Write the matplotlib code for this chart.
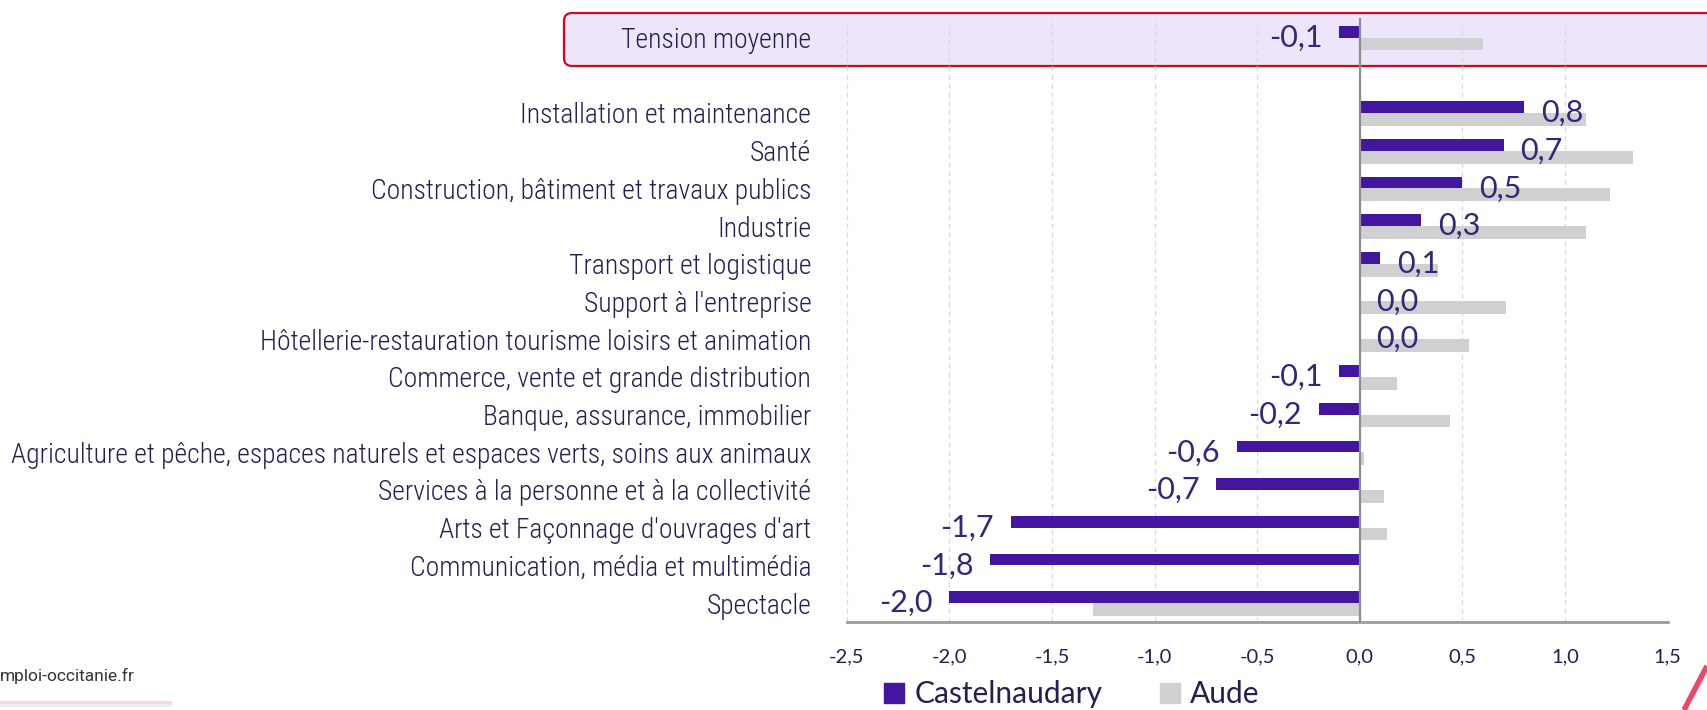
import numpy as np
import matplotlib.pyplot as plt
from matplotlib.patches import FancyBboxPatch, Patch
from matplotlib.lines import Line2D
from matplotlib.ticker import FixedLocator, FuncFormatter

# data (top to bottom)
categories = [
    "Installation et maintenance",
    "Santé",
    "Construction, bâtiment et travaux publics",
    "Industrie",
    "Transport et logistique",
    "Support à l'entreprise",
    "Hôtellerie-restauration tourisme loisirs et animation",
    "Commerce, vente et grande distribution",
    "Banque, assurance, immobilier",
    "Agriculture et pêche, espaces naturels et espaces verts, soins aux animaux",
    "Services à la personne et à la collectivité",
    "Arts et Façonnage d'ouvrages d'art",
    "Communication, média et multimédia",
    "Spectacle",
]
castelnaudary = [0.8, 0.7, 0.5, 0.3, 0.1, 0.0, 0.0, -0.1, -0.2, -0.6, -0.7, -1.7, -1.8, -2.0]
aude = [1.1, 1.33, 1.22, 1.1, 0.38, 0.71, 0.53, 0.18, 0.44, 0.02, 0.12, 0.13, 0.0, -1.3]

tension_label = "Tension moyenne"
tension_castel = -0.1
tension_aude = 0.6

xticks = [-2.5, -2.0, -1.5, -1.0, -0.5, 0.0, 0.5, 1.0, 1.5]

purple = '#42169f'
grey = '#d0cfd1'
text_col = '#241e52'
val_col = '#35267a'
narrow = ['Roboto Condensed', 'Liberation Sans Narrow', 'DejaVu Sans']


def fr(v):
    return f"{v:.1f}".replace('.', ',')


W, H = 1707, 710
fig = plt.figure(figsize=(W / 100, H / 100), dpi=100)
fig.patch.set_facecolor('white')

# axes placed to match the reference pixel layout
x0, x1 = 846.7, 1667.7
ytop, ybot = 18, 622.3
ax = fig.add_axes([x0 / W, (H - ybot) / H, (x1 - x0) / W, (ybot - ytop) / H])
ax.set_facecolor('none')

# highlighted "tension moyenne" band
box = FancyBboxPatch((5.64, (H - 66) / 100), 11.8, 0.53,
                     boxstyle="round,pad=0,rounding_size=0.08",
                     transform=fig.dpi_scale_trans,
                     facecolor='#ede6fa', edgecolor='#d2081f', lw=1.6, zorder=-1)
fig.add_artist(box)

rows = np.arange(len(categories))
y_all = np.concatenate([[-2], rows])
c_all = [tension_castel] + castelnaudary
a_all = [tension_aude] + aude
labels = [tension_label] + categories

ax.barh(y_all - 0.31, c_all, height=0.31, align='edge', color=purple, zorder=3)
ax.barh(y_all, a_all, height=0.34, align='edge', color=grey, zorder=2)

for y, v in zip(y_all, c_all):
    off = 12 if v >= 0 else -12
    ax.annotate(fr(v), xy=(v, y), xytext=(off, 0), textcoords='offset points',
                ha='left' if v >= 0 else 'right', va='center',
                fontsize=22, color=val_col, family='Lato', zorder=5)

ax.axvline(0, color='#8e8e8e', lw=1.6, zorder=4)

ax.set_xlim(-2.5, 1.5)
ax.set_ylim(13.51, -2.52)
ax.xaxis.set_major_locator(FixedLocator(xticks))
ax.xaxis.set_major_formatter(FuncFormatter(lambda v, p: fr(v)))
ax.grid(axis='x', ls=(0, (4, 3)), color='#d9d9d9', lw=0.9, zorder=0)
ax.set_axisbelow(True)

ax.set_yticks(y_all)
ax.set_yticklabels(labels)
for lbl in ax.get_yticklabels():
    lbl.set_family(narrow)
    lbl.set_stretch('condensed')
    lbl.set_fontweight('light')
    lbl.set_fontsize(19.9)
    lbl.set_color(text_col)
for lbl in ax.get_xticklabels():
    lbl.set_family('Lato')
    lbl.set_fontsize(14.5)
    lbl.set_color(text_col)

ax.tick_params(axis='y', length=0, pad=25.5)
ax.tick_params(axis='x', length=0, pad=19)

for s in ['top', 'right', 'left']:
    ax.spines[s].set_visible(False)
ax.spines['bottom'].set_color('#9b9b9b')
ax.spines['bottom'].set_linewidth(2)

# legend
handles = [Patch(color=purple, label='Castelnaudary'), Patch(color=grey, label='Aude')]
fig.legend(handles=handles, loc='center', bbox_to_anchor=(0.628, 0.022), ncol=2,
           frameon=False, handlelength=0.67, handleheight=0.67, handletextpad=0.35,
           columnspacing=1.9, labelcolor=text_col,
           prop={'family': 'Lato', 'size': 21.5})

# footer
fig.text(0, (H - 676) / H, "mploi-occitanie.fr", fontsize=12.5, color='#333333',
         va='center', ha='left', family='Roboto')
fig.add_artist(Line2D([0, 170 / W], [(H - 705) / H] * 2, color='#eeeeee', lw=3))
fig.add_artist(Line2D([0, 170 / W], [(H - 702) / H] * 2, color='#f9d3da', lw=2))
fig.add_artist(Line2D([1684 / W, 1707 / W], [0, 44 / H], color='#e8496d', lw=4,
                      solid_capstyle='butt'))

fig.savefig('out.png', dpi=100, facecolor='white')
